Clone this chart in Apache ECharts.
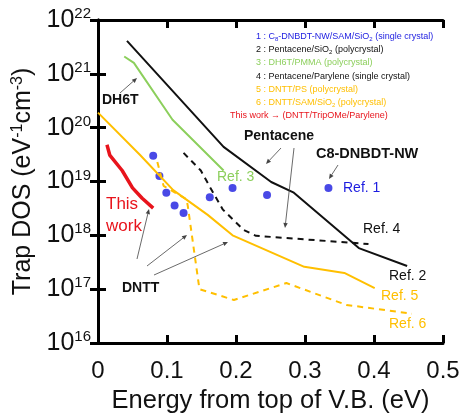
<!DOCTYPE html>
<html><head><meta charset="utf-8">
<script src="https://cdn.jsdelivr.net/npm/echarts@6/dist/echarts.min.js"></script>
<style>html,body{margin:0;padding:0;background:#fff}#c{width:459px;height:414px}</style>
</head><body><div id="c"></div>
<script>
// ---- data (x: energy eV, y: trap DOS eV^-1 cm^-3) ----
const xTicks = [0, 0.1, 0.2, 0.3, 0.4, 0.5];
const yTickExponents = [16, 17, 18, 19, 20, 21, 22];
const thisWork = [[0.013,4.8e19],[0.017,3.1e19],[0.035,1.6e19],[0.050,7.6e18],[0.064,4.9e18],[0.080,3.2e18]];
const ref1 = [[0.080,3.0e19],[0.089,1.26e19],[0.099,6.2e18],[0.111,3.6e18],[0.124,2.6e18],[0.162,5.1e18],[0.195,7.6e18],[0.245,5.6e18],[0.334,7.6e18]];
const ref2 = [[0.042,4.1e21],[0.182,4.4e19],[0.251,9.8e18],[0.283,6.3e18],[0.378,5.8e17],[0.448,2.7e17]];
const ref3 = [[0.038,2.1e21],[0.052,1.6e21],[0.108,1.4e20],[0.182,1.6e19]];
const ref4 = [[0.124,3.4e19],[0.149,1.6e19],[0.163,7.6e18],[0.181,3.0e18],[0.211,1.26e18],[0.229,9.8e17],[0.392,6.9e17]];
const ref5 = [[0.0,1.9e20],[0.061,3.1e19],[0.109,6.9e18],[0.159,2.4e18],[0.195,1.0e18],[0.299,2.6e17],[0.357,2.0e17],[0.401,1.05e17]];
const ref6 = [[0.086,2.3e19],[0.095,8.3e18],[0.128,4.7e18],[0.130,3.6e18],[0.147,1.0e17],[0.197,6.3e16],[0.273,1.3e17],[0.360,5.1e16],[0.455,3.5e16]];

const C_BLUE = '#1c1ce0', C_GREEN = '#8ccf5c', C_ORANGE = '#ffbf00', C_RED = '#e8141c';
const FONT = 'Liberation Sans, Arial, sans-serif';

const chart = echarts.init(document.getElementById('c'));

function arrow(x1, y1, x2, y2) {
  const a = Math.atan2(y2 - y1, x2 - x1), L = 5, W = 2.2;
  const bx = x2 - L * Math.cos(a), by = y2 - L * Math.sin(a);
  const px = -Math.sin(a) * W, py = Math.cos(a) * W;
  return [
    {type:'line', shape:{x1, y1, x2: bx, y2: by}, style:{stroke:'#444', lineWidth:0.8}, z:50},
    {type:'polygon', shape:{points:[[x2,y2],[bx+px,by+py],[bx-px,by-py]]}, style:{fill:'#444'}, z:50}
  ];
}
function txt(left, top, text, fill, size, weight, rich) {
  return {type:'text', left, top, z:60,
    style:{text, fill, font:(weight||'normal') + ' ' + size + 'px ' + FONT, rich: rich || {}}};
}
const subRich = {sub:{fontSize:6, padding:[5,0,0,0], fontFamily:FONT}};
const legendItems = [
  ['1 : C{sub|8}-DNBDT-NW/SAM/SiO{sub|2} (single crystal)', C_BLUE, 256],
  ['2 : Pentacene/SiO{sub|2} (polycrystal)', '#111', 256],
  ['3 : DH6T/PMMA (polycrystal)', C_GREEN, 256],
  ['4 : Pentacene/Parylene (single crystal)', '#111', 256],
  ['5 : DNTT/PS (polycrystal)', C_ORANGE, 256],
  ['6 : DNTT/SAM/SiO{sub|2} (polycrystal)', C_ORANGE, 256],
  ['This work \u2192 (DNTT/TripOMe/Parylene)', C_RED, 230]
];
const graphics = [];
legendItems.forEach((it, i) => {
  graphics.push(txt(it[2], 32 + i * 13.2, it[0], it[1], 9, 'normal', subRich));
});
graphics.push(
  txt(102, 93, 'DH6T', '#111', 14, 'bold'),
  txt(244, 129, 'Pentacene', '#111', 14, 'bold'),
  txt(316, 146, 'C8-DNBDT-NW', '#111', 14.5, 'bold'),
  txt(122, 281, 'DNTT', '#111', 14, 'bold'),
  txt(343, 181, 'Ref. 1', C_BLUE, 14),
  txt(217, 170, 'Ref. 3', C_GREEN, 14),
  txt(363, 222, 'Ref. 4', '#111', 14),
  txt(389, 269, 'Ref. 2', '#111', 14),
  txt(381, 289, 'Ref. 5', C_ORANGE, 14),
  txt(389, 317, 'Ref. 6', C_ORANGE, 14),
  txt(106, 196, 'This', C_RED, 17),
  txt(106, 218, 'work', C_RED, 17)
);
[[120,93,137,78],[281,148,266,164],[294,148,285,228],[338,165,329,179],[137,259,149,209],[147,266,187,235],[154,275,228,242]]
  .forEach(a => graphics.push(...arrow(a[0],a[1],a[2],a[3])));

const mirror = {
  axisLine:{show:true, lineStyle:{color:'#000', width:3}},
  axisTick:{show:true, inside:true, length:8, lineStyle:{color:'#000', width:3}},
  axisLabel:{show:false}, splitLine:{show:false}
};

chart.setOption({
  animation:false,
  grid:{left:98, right:16, top:20, bottom:71, containLabel:false, outerBoundsMode:'none'},
  xAxis:[{
    type:'value', min:xTicks[0], max:xTicks[xTicks.length-1], interval:0.1,
    name:'Energy from top of V.B. (eV)', nameLocation:'middle', nameGap:45,
    nameTextStyle:{fontSize:25.5, color:'#111', fontFamily:FONT},
    axisLine:{lineStyle:{color:'#000', width:3}},
    axisTick:{inside:true, length:8, lineStyle:{color:'#000', width:3}},
    axisLabel:{fontSize:24, color:'#111', fontFamily:FONT, margin:16,
      formatter:v => { const t = xTicks.find(k => Math.abs(k - v) < 1e-6); return t === 0 ? '0' : (t !== undefined ? t.toFixed(1) : ''); }},
    splitLine:{show:false}
  }, Object.assign({type:'value', position:'top', min:0, max:0.5, interval:0.1}, mirror)],
  yAxis:[{
    type:'log', logBase:10, min:Math.pow(10, yTickExponents[0]), max:Math.pow(10, yTickExponents[yTickExponents.length-1]),
    splitNumber:6,
    name:'Trap DOS (eV{s|-1}cm{s|-3})', nameLocation:'middle', nameGap:52, nameRotate:90,
    nameTextStyle:{fontSize:25, color:'#111', fontFamily:FONT,
      rich:{s:{fontSize:16, fontFamily:FONT, color:'#111', padding:[0,0,11,0]}}},
    axisLine:{lineStyle:{color:'#000', width:3}},
    axisTick:{inside:true, length:8, lineStyle:{color:'#000', width:3}},
    axisLabel:{color:'#111', margin:7, fontFamily:FONT,
      formatter:v => '{b|10}{s|' + Math.round(Math.log10(v)) + '}',
      rich:{b:{fontSize:25, fontFamily:FONT, color:'#111'}, s:{fontSize:15, fontFamily:FONT, color:'#111', padding:[0,0,12,0]}}},
    splitLine:{show:false}
  }, Object.assign({type:'log', logBase:10, position:'right', min:1e16, max:1e22, splitNumber:6}, mirror)],
  series:[
    {name:'Ref. 2', type:'line', data:ref2, showSymbol:false, lineStyle:{color:'#111', width:2}},
    {name:'Ref. 3', type:'line', data:ref3, showSymbol:false, lineStyle:{color:C_GREEN, width:2}},
    {name:'Ref. 4', type:'line', data:ref4, showSymbol:false, lineStyle:{color:'#111', width:2, type:[6,5]}},
    {name:'Ref. 5', type:'line', data:ref5, showSymbol:false, lineStyle:{color:C_ORANGE, width:2}},
    {name:'Ref. 6', type:'line', data:ref6, showSymbol:false, lineStyle:{color:C_ORANGE, width:2, type:[6,5]}},
    {name:'This work', type:'line', data:thisWork, showSymbol:false, lineStyle:{color:C_RED, width:3.5}},
    {name:'Ref. 1', type:'scatter', data:ref1, symbolSize:8, itemStyle:{color:C_BLUE}}
  ],
  graphic:graphics
});
</script></body></html>
